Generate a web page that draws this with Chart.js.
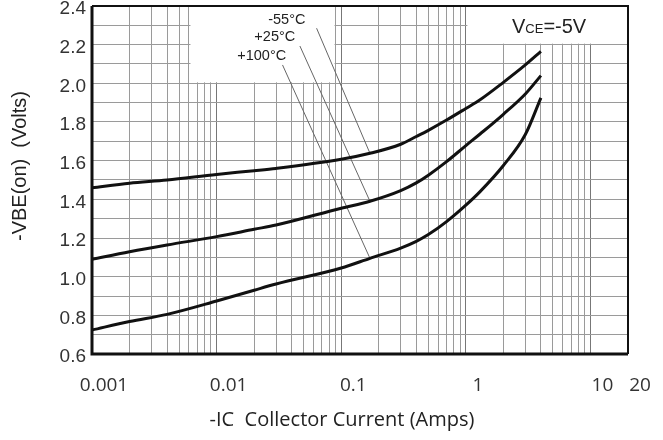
<!DOCTYPE html>
<html>
<head>
<meta charset="utf-8">
<script src="https://cdn.jsdelivr.net/npm/chart.js@4.4.0/dist/chart.umd.min.js"></script>
<style>
  html, body { margin: 0; padding: 0; background: #fff; }
  #grafico { display: block; }
</style>
</head>
<body>
<canvas id="grafico" width="663" height="440"></canvas>
<script>
// ========== DADOS ==========
const correnteIC = [0.001, 0.002, 0.004, 0.01, 0.02, 0.03, 0.1, 0.17, 0.3, 0.4, 0.5, 0.7, 1.0, 1.3, 2.0, 3.0, 4.0];
const vbeMenos55 = [1.46, 1.483, 1.50, 1.529, 1.548, 1.56, 1.607, 1.638, 1.685, 1.725, 1.757, 1.81, 1.87, 1.915, 2.005, 2.095, 2.165];
const vbeMais25 = [1.09, 1.129, 1.164, 1.207, 1.245, 1.267, 1.354, 1.39, 1.445, 1.485, 1.525, 1.595, 1.678, 1.738, 1.84, 1.945, 2.04];
const vbeMais100 = [0.724, 0.768, 0.805, 0.874, 0.93, 0.962, 1.045, 1.095, 1.148, 1.183, 1.218, 1.285, 1.37, 1.44, 1.575, 1.735, 1.925];

const rotulosTemp = ['-55°C', '+25°C', '+100°C'];
const rotuloPos = [[0.0366, 2.327], [0.0293, 2.24], [0.0230, 2.141]];   // centro do texto (dados)
const guiaInicio = [[0.0634, 2.285], [0.0466, 2.193], [0.0338, 2.095]]; // começo da linha-guia
const guiaIndice = 7; // ponto da curva onde a linha-guia termina

const xRotulos = ['0.001', '0.01', '0.1', '1', '10', '20'];
const yRotulos = ['0.6', '0.8', '1.0', '1.2', '1.4', '1.6', '1.8', '2.0', '2.2', '2.4'];

// linhas de grade: 1..9 por década + 20
const xGrade = [];
[0.001, 0.01, 0.1, 1].forEach(d => {
    for (let k = 1; k <= 9; k++) xGrade.push(+(k * d).toPrecision(3));
});
xGrade.push(10, 20);
const yGrade = [];
for (let k = 6; k <= 24; k++) yGrade.push(k / 10);

function pontos(xs, ys) {
    return ys.map((v, i) => ({ x: xs[i], y: v }));
}

const curvas = [vbeMenos55, vbeMais25, vbeMais100];

const datasets = curvas.map((serie, i) => ({
    label: rotulosTemp[i],
    data: pontos(correnteIC, serie),
    borderColor: '#111',
    borderWidth: 3,
    pointRadius: 0,
    fill: false,
    cubicInterpolationMode: 'monotone'
}));

// linhas-guia dos rótulos
curvas.forEach((serie, i) => {
    datasets.push({
        label: 'guia ' + rotulosTemp[i],
        data: [
            { x: guiaInicio[i][0], y: guiaInicio[i][1] },
            { x: correnteIC[guiaIndice], y: serie[guiaIndice] }
        ],
        borderColor: '#666',
        borderWidth: 1,
        pointRadius: 0,
        tension: 0,
        fill: false
    });
});

// ========== PLUGIN: CAIXAS BRANCAS, TEXTOS E MOLDURA ==========
const pluginFolha = {
    id: 'folha',
    beforeDatasetsDraw(chart) {
        const { ctx, scales: { x, y } } = chart;
        ctx.save();
        ctx.fillStyle = '#fff';
        const topo = y.getPixelForValue(2.4);
        // caixa dos rótulos de temperatura
        let l = x.getPixelForValue(0.006) + 1.5;
        let r = x.getPixelForValue(0.09) - 1;
        let b = y.getPixelForValue(2.0) - 1;
        ctx.fillRect(l, topo, r - l, b - topo);
        // caixa do VCE
        l = x.getPixelForValue(1) + 1.5;
        r = x.getPixelForValue(20);
        b = y.getPixelForValue(2.2) - 1;
        ctx.fillRect(l, topo, r - l, b - topo);
        ctx.restore();
    },
    afterDatasetsDraw(chart) {
        const { ctx, chartArea: a, scales: { x, y } } = chart;
        ctx.save();
        // rótulos das curvas
        ctx.fillStyle = '#222';
        ctx.font = '14.5px "Liberation Sans", Arial, sans-serif';
        ctx.textAlign = 'center';
        ctx.textBaseline = 'middle';
        rotulosTemp.forEach((txt, i) => {
            ctx.fillText(txt, x.getPixelForValue(rotuloPos[i][0]), y.getPixelForValue(rotuloPos[i][1]));
        });

        // VCE=-5V
        ctx.textAlign = 'left';
        ctx.textBaseline = 'alphabetic';
        let px = 512, py = 33;
        ctx.font = '20px "Liberation Sans", Arial, sans-serif';
        ctx.fillText('V', px, py);
        px += ctx.measureText('V').width;
        ctx.font = '13px "Liberation Sans", Arial, sans-serif';
        ctx.fillText('CE', px, py);
        px += ctx.measureText('CE').width;
        ctx.font = '20px "Liberation Sans", Arial, sans-serif';
        ctx.fillText('=-5V', px, py);

        // moldura
        ctx.strokeStyle = '#111';
        ctx.lineWidth = 3;
        ctx.beginPath();
        ctx.moveTo(a.left, a.top);
        ctx.lineTo(a.left, a.bottom);
        ctx.lineTo(a.right, a.bottom);
        ctx.stroke();
        ctx.lineWidth = 2;
        ctx.beginPath();
        ctx.moveTo(a.left, a.top);
        ctx.lineTo(a.right, a.top);
        ctx.lineTo(a.right, a.bottom);
        ctx.stroke();
        ctx.restore();
    },
    afterDraw(chart) {
        const { ctx } = chart;
        ctx.save();
        ctx.fillStyle = '#222';
        ctx.textAlign = 'center';
        ctx.textBaseline = 'middle';
        ctx.font = '20px "Open Sans", sans-serif';
        ctx.fillText('-IC  Collector Current (Amps)', 342, 420);
        ctx.translate(20, 166);
        ctx.rotate(-Math.PI / 2);
        ctx.font = '20px "Liberation Sans", Arial, sans-serif';
        ctx.fillText('-VBE(on)  (Volts)', 0, 0);
        ctx.restore();
    }
};

function corGradeX(ctx) {
    const v = ctx.tick ? ctx.tick.value : 0;
    const lg = Math.log10(v);
    return Math.abs(lg - Math.round(lg)) < 1e-6 ? '#777' : '#9a9a9a';
}

new Chart(document.getElementById('grafico'), {
    type: 'line',
    data: { datasets },
    plugins: [pluginFolha],
    options: {
        responsive: false,
        animation: false,
        layout: { padding: { left: 0, top: 6, right: 35, bottom: 0 } },
        plugins: {
            legend: { display: false },
            tooltip: { enabled: false }
        },
        scales: {
            x: {
                type: 'logarithmic',
                min: 0.001,
                max: 20,
                afterBuildTicks(scale) {
                    scale.ticks = xGrade.map(v => ({ value: v }));
                },
                afterFit(scale) {
                    scale.height = 86;
                    scale.paddingLeft = 0;
                    scale.paddingRight = 0;
                },
                border: { display: false },
                grid: { color: corGradeX, lineWidth: 1, drawTicks: false },
                ticks: {
                    autoSkip: false,
                    maxRotation: 0,
                    padding: 20,
                    labelOffset: 12,
                    color: '#333',
                    font: { family: '"Open Sans", sans-serif', size: 19 },
                    callback(value) {
                        const r = xRotulos.find(t => Math.abs(Math.log10(+t) - Math.log10(value)) < 1e-6);
                        return r || '';
                    }
                }
            },
            y: {
                min: 0.6,
                max: 2.4,
                afterBuildTicks(scale) {
                    scale.ticks = yGrade.map(v => ({ value: v }));
                },
                afterFit(scale) {
                    scale.width = 92;
                    scale.paddingTop = 0;
                    scale.paddingBottom = 0;
                },
                border: { display: false },
                grid: { color: '#9a9a9a', lineWidth: 1, drawTicks: false },
                ticks: {
                    autoSkip: false,
                    padding: 6,
                    labelOffset: 3,
                    color: '#333',
                    font: { family: '"Liberation Sans", Arial, sans-serif', size: 19 },
                    callback(value) {
                        const r = yRotulos.find(t => Math.abs(+t - value) < 1e-6);
                        return r || '';
                    }
                }
            }
        }
    }
});
</script>
</body>
</html>
